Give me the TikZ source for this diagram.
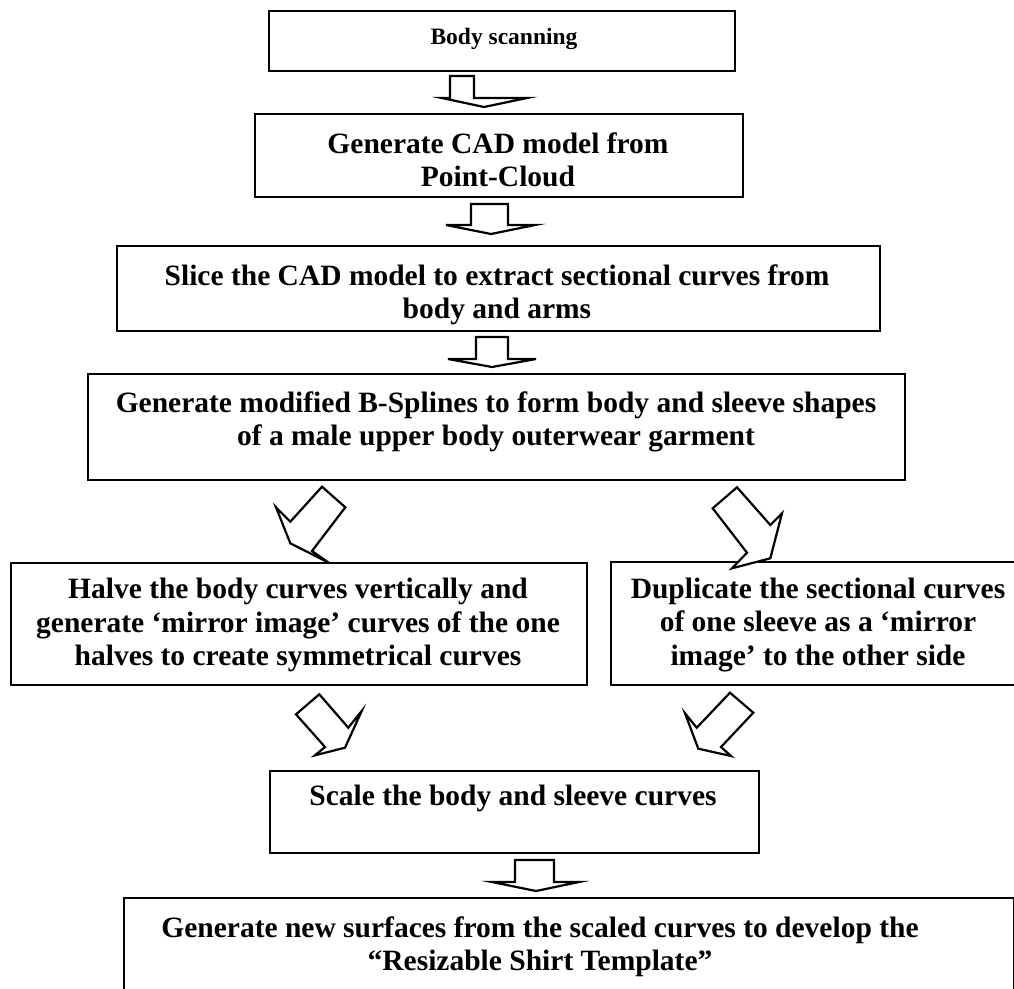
\documentclass[tikz,border=0pt]{standalone}
\usepackage{fontspec}
\setmainfont{Liberation Serif}
\begin{document}
\begin{tikzpicture}[x=1pt,y=-1pt,
  box/.style={draw=black,line width=1.8pt,rectangle,inner sep=0pt,anchor=north west},
  txt/.style={align=center,inner sep=0pt,font=\bfseries\fontsize{29.5}{33.3}\selectfont},
  smalltxt/.style={align=center,inner sep=0pt,font=\bfseries\fontsize{23.5}{27}\selectfont},
  blockarrow/.style={draw=black,fill=white,line width=2.2pt,line join=miter}]
\clip (0,0) rectangle (1014,988);
\fill[white] (0,0) rectangle (1014,988);
% boxes
\node[box,minimum width=466pt,minimum height=60pt] (b1) at (268,10) {};
\node[box,minimum width=488pt,minimum height=83pt] (b2) at (254,113) {};
\node[box,minimum width=763pt,minimum height=85pt] (b3) at (116,245) {};
\node[box,minimum width=817pt,minimum height=106pt] (b4) at (87,373) {};
\node[box,minimum width=576pt,minimum height=122pt] (b5) at (10,562) {};
\node[box,minimum width=420pt,minimum height=123pt] (b6) at (610,561) {};
\node[box,minimum width=489pt,minimum height=82pt] (b7) at (269,770) {};
\node[box,minimum width=890pt,minimum height=110pt] (b8) at (123,897) {};
% texts
\node[smalltxt] (t1) at (504,39) {Body scanning};
\node[txt] (t2) at (498,160) {Generate CAD model from\\Point-Cloud};
\node[txt] (t3) at (497,295) {Slice the CAD model to extract sectional curves from\\body and arms};
\node[txt] (t4) at (496,422) {Generate modified B-Splines to form body and sleeve shapes\\of a male upper body outerwear garment};
\node[txt] (t5) at (298,625) {Halve the body curves vertically and\\generate ‘mirror image’ curves of the one\\halves to create symmetrical curves};
\node[txt] (t6) at (818,625) {Duplicate the sectional curves\\of one sleeve as a ‘mirror\\image’ to the other side};
\node[txt] (t7) at (513,798) {Scale the body and sleeve curves};
\node[txt] (t8) at (540,947) {Generate new surfaces from the scaled curves to develop the\\“Resizable Shirt Template”};
% straight block arrows
\draw[blockarrow] (450,76) -- (474,76) -- (474,98) -- (527,98) -- (484,107) -- (442,98) -- (450,98) -- cycle;
\draw[blockarrow] (471,204) -- (508,204) -- (508,225) -- (535,225) -- (491,234) -- (446,225) -- (471,225) -- cycle;
\draw[blockarrow] (476,337) -- (508,337) -- (508,359) -- (536,359) -- (492,367) -- (448,359) -- (476,359) -- cycle;
\draw[blockarrow] (515,860) -- (554,860) -- (554,882) -- (579,882) -- (536,891) -- (492,882) -- (515,882) -- cycle;
% diagonal block arrows
\draw[blockarrow] (322,486.7) -- (345.3,507.3) -- (312,551) -- (328.7,562.7) -- (290.3,543.3) -- (276,507.3) -- (290.3,521.7) -- cycle;
\draw[blockarrow] (737,487.3) -- (712.7,508.3) -- (747,552.7) -- (732,568.3) -- (770.3,558.3) -- (782,513.3) -- (770.3,525) -- cycle;
\draw[blockarrow] (319.3,694.3) -- (296,714.3) -- (325,747) -- (315,755.3) -- (345,747.7) -- (361.7,711) -- (348.3,727.7) -- cycle;
\draw[blockarrow] (730,692.7) -- (753.3,712.7) -- (721,747) -- (731,756) -- (698.3,748.7) -- (685,713.3) -- (696.7,727.7) -- cycle;
\end{tikzpicture}
\end{document}
